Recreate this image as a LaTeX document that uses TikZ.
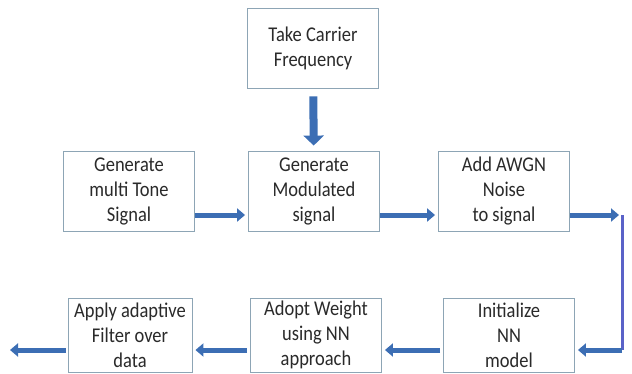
\documentclass[tikz,border=0pt]{standalone}
\usepackage{fontspec}
\setmainfont{Carlito}[FakeStretch=0.88]
\usetikzlibrary{arrows.meta}

\begin{document}
\begin{tikzpicture}[x=1pt, y=-1pt]
    \definecolor{boxBorder}{HTML}{8DA5B5}
    \definecolor{arrowColour}{HTML}{3C6EB4}
    \definecolor{textColour}{HTML}{2A2A2A}
    \definecolor{loopColour}{HTML}{5A62C8}

    \tikzset{
        stepbox/.style={draw=boxBorder, line width=0.9pt, fill=white, text=textColour,
            minimum width=131pt, minimum height=80pt, align=center, inner sep=1pt,
            font=\fontsize{21}{25}\selectfont},
        flow/.style={arrowColour, line width=5pt, -{Triangle[width=13pt,length=8pt]}}
    }

    \useasboundingbox (0,0) rectangle (632,373);

    % Draw boxes
    \node[stepbox] (carrier) at (313,48)  {Take Carrier\\Frequency};
    \node[stepbox] (tone)    at (129,191) {Generate\\multi Tone\\Signal};
    \node[stepbox] (modul)   at (314,191) {Generate\\Modulated\\signal};
    \node[stepbox] (awgn)    at (504,191) {Add AWGN\\Noise\\to signal};
    \node[stepbox, minimum height=74pt] (init)  at (509,335) {Initialize\\NN\\model};
    \node[stepbox, minimum height=74pt] (adopt) at (316,335) {Adopt Weight\\using NN\\approach};
    \node[stepbox, minimum height=74pt, minimum width=124pt] (apply) at (130,335) {Apply adaptive\\Filter over\\data};

    % Loop and output points
    \coordinate (turnA) at (622,215);
    \coordinate (turnB) at (622,350);
    \coordinate (out)   at (10,350);

    % Draw arrows
    \draw[flow, line width=8pt, -{Triangle[width=20pt,length=10pt]}, shorten <=8pt, shorten >=5pt] (carrier) -- (modul);
    \draw[flow, shorten >=3pt] ([yshift=-24pt]tone.east) -- ([yshift=-24pt]modul.west);
    \draw[flow, shorten >=3pt] ([yshift=-24pt]modul.east) -- ([yshift=-24pt]awgn.west);
    \draw[flow, shorten >=3pt] ([yshift=-24pt]awgn.east) -- (turnA);
    \draw[loopColour, line width=3pt] (turnA) -- (turnB);
    \draw[flow, shorten >=3pt] (turnB) -- ([yshift=-15pt]init.east);
    \draw[flow, shorten <=3pt, shorten >=3pt] ([yshift=-15pt]init.west) -- ([yshift=-15pt]adopt.east);
    \draw[flow, shorten <=3pt, shorten >=3pt] ([yshift=-15pt]adopt.west) -- ([yshift=-15pt]apply.east);
    \draw[flow, shorten <=2pt] ([yshift=-15pt]apply.west) -- (out);

\end{tikzpicture}
\end{document}
